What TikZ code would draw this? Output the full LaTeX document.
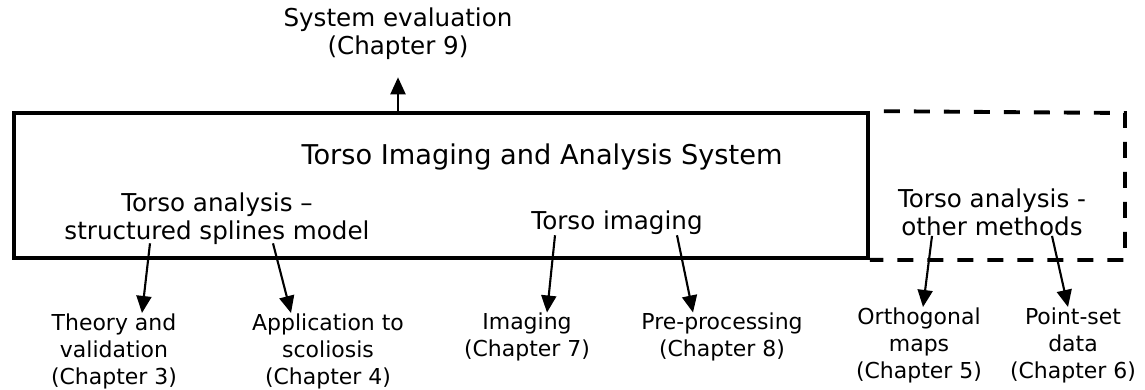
\documentclass[tikz,border=0pt]{standalone}
\usepackage{fontspec}
\setmainfont{DejaVu Sans}
\usetikzlibrary{arrows.meta,calc,positioning}

\tikzset{
  txt/.style={inner sep=0pt, align=center, font=\fontsize{14}{16}\selectfont},
  chap/.style={inner sep=0pt, align=center, font=\fontsize{12.5}{15.4}\selectfont},
  arr/.style={line width=1.2pt, -{Triangle[length=0.34cm,width=0.3cm]}},
  frame/.style={line width=2.2pt},
}

\begin{document}
\begin{tikzpicture}[x=0.02cm,y=-0.02cm]
    \useasboundingbox (0,0) rectangle (1145,389);

    % main system box and its dashed extension
    \node[draw, frame, inner sep=0pt, minimum width=17.08cm, minimum height=2.9cm] (sys) at (441,185.5) {};
    \draw[frame, dash pattern=on 0.32cm off 0.28cm, dash phase=0.32cm] (sys.north east) -- (1125,113) -- (1125,260) -- (sys.south east);
    \node[inner sep=0pt, font=\fontsize{15.5}{18}\selectfont] (title) at (542,157) {Torso Imaging and Analysis System};

    % evaluation on top
    \node[txt] (eval) at (398,34) {System evaluation\\(Chapter 9)};
    \draw[arr, shorten >=0.34cm] (sys.north -| eval) -- (eval);

    % parts inside the box
    \node[txt] (spl) at (217,219) {Torso analysis –\\structured splines model};
    \node[txt] (img) at (617,223) {Torso imaging};
    \node[txt] (oth) at (992,212) {Torso analysis -\\other methods};

    % chapters below
    \node[chap] (theory) at (114,351) {Theory and\\validation\\(Chapter 3)};
    \node[chap] (scol) at (328,351) {Application to\\scoliosis\\(Chapter 4)};
    \node[chap] (imaging) at (527,337) {Imaging\\(Chapter 7)};
    \node[chap] (prep) at (722,337) {Pre-processing\\(Chapter 8)};
    \node[chap] (ortho) at (919,345) {Orthogonal\\maps\\(Chapter 5)};
    \node[chap] (point) at (1073,345) {Point-set\\data\\(Chapter 6)};

    \draw[arr] ($(spl.south)+(-67,-2)$) -- ($(theory.north)+(28,0)$);
    \draw[arr] ($(spl.south)+(56,-2)$) -- ($(scol.north)+(-37,0)$);
    \draw[arr] ($(img.south)+(-62,0)$) -- ($(imaging.north)+(20,0)$);
    \draw[arr] ($(img.south)+(60,0)$) -- ($(prep.north)+(-29,0)$);
    \draw[arr] ($(oth.south)+(-60,0)$) -- ($(ortho.north)+(4,0)$);
    \draw[arr] ($(oth.south)+(60,0)$) -- ($(point.north)+(-5,0)$);
\end{tikzpicture}
\end{document}
